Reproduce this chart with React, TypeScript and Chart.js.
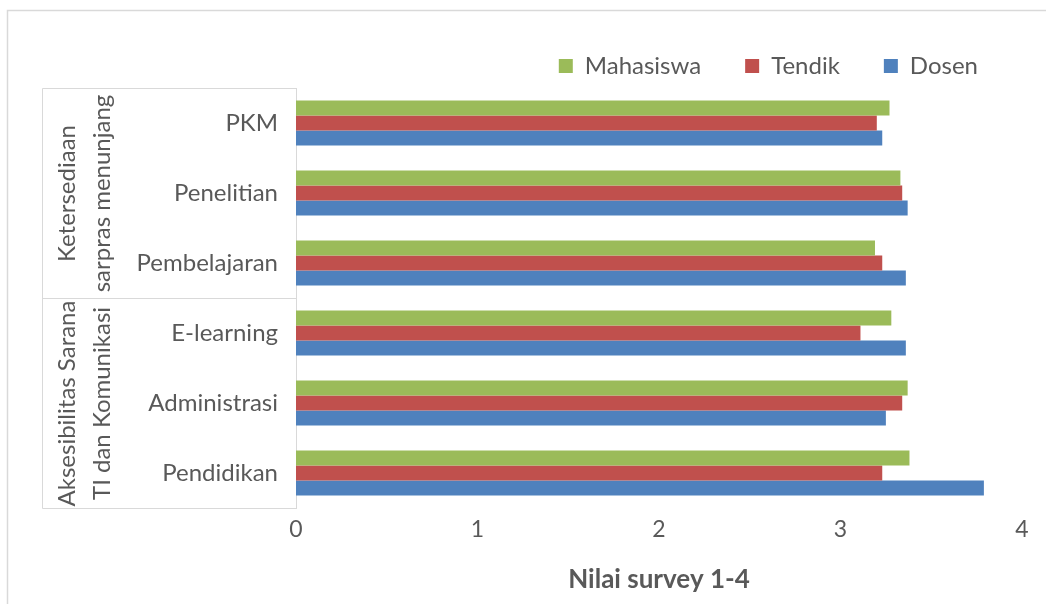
import React, { useEffect, useRef } from "react";
import { Chart, registerables } from "chart.js";

Chart.register(...registerables);

const categories = ["PKM", "Penelitian", "Pembelajaran", "E-learning", "Administrasi", "Pendidikan"];
const mahasiswa = [3.27, 3.33, 3.19, 3.28, 3.37, 3.38];
const tendik = [3.2, 3.34, 3.23, 3.11, 3.34, 3.23];
const dosen = [3.23, 3.37, 3.36, 3.36, 3.25, 3.79];
const groupLabels = [["Ketersediaan", "sarpras menunjang"], ["Aksesibilitas Sarana", "TI dan Komunikasi"]];
const groupStarts = [0, 3];
const groupEnds = [2, 5];
const xTicks = [0, 1, 2, 3, 4];
const axisTitle = "Nilai survey 1-4";

const TEXT = "#595959";
const LINE = "#d9d9d9";
const FONT = "Lato";

const framePlugin = {
  id: "frame",
  beforeDraw(chart: any) {
    const ctx = chart.ctx;
    ctx.save();
    ctx.fillStyle = "#ffffff";
    ctx.fillRect(0, 0, chart.width, chart.height);
    ctx.strokeStyle = LINE;
    ctx.lineWidth = 1.5;
    ctx.strokeRect(7.5, 10.5, 1200, 800);
    ctx.restore();
  },
  afterDraw(chart: any) {
    const ctx = chart.ctx;
    const y = chart.scales.y;
    const left = 42.5;
    const right = chart.chartArea.left;
    ctx.save();
    ctx.strokeStyle = LINE;
    ctx.lineWidth = 1;
    const half = (y.getPixelForValue(1) - y.getPixelForValue(0)) / 2;
    const top = Math.round(y.getPixelForValue(groupStarts[0]) - half) + 0.5;
    const bottom = Math.round(y.getPixelForValue(groupEnds[groupEnds.length - 1]) + half) + 0.5;
    ctx.beginPath();
    ctx.moveTo(left, top);
    ctx.lineTo(left, bottom);
    ctx.stroke();
    groupStarts.forEach((s, i) => {
      const gTop = Math.round(y.getPixelForValue(s) - half) + 0.5;
      const gBot = Math.round(y.getPixelForValue(groupEnds[i]) + half) + 0.5;
      ctx.beginPath();
      ctx.moveTo(left, gTop);
      ctx.lineTo(right, gTop);
      ctx.moveTo(left, gBot);
      ctx.lineTo(right, gBot);
      ctx.stroke();
      const cy = (gTop + gBot) / 2;
      ctx.fillStyle = TEXT;
      ctx.font = `24px ${FONT}`;
      ctx.textAlign = "center";
      ctx.textBaseline = "middle";
      groupLabels[i].forEach((ln, j) => {
        ctx.save();
        ctx.translate(67 + j * 35, cy);
        ctx.rotate(-Math.PI / 2);
        ctx.fillText(ln, 0, 0);
        ctx.restore();
      });
    });
    ctx.restore();
  },
};

export default function App() {
  const ref = useRef<HTMLCanvasElement>(null);
  useEffect(() => {
    if (!ref.current) return;
    const chart = new Chart(ref.current, {
      type: "bar",
      data: {
        labels: categories,
        datasets: [
          { label: "Mahasiswa", data: mahasiswa, backgroundColor: "#9bbb59" },
          { label: "Tendik", data: tendik, backgroundColor: "#c0504d" },
          { label: "Dosen", data: dosen, backgroundColor: "#4f81bd" },
        ],
      },
      options: {
        indexAxis: "y",
        responsive: false,
        animation: false,
        devicePixelRatio: 1,
        categoryPercentage: 0.645,
        barPercentage: 1,
        layout: { padding: { top: 10, right: 24, left: 0, bottom: 0 } },
        plugins: {
          tooltip: { enabled: false },
          legend: {
            position: "top",
            align: "end",
            labels: {
              boxWidth: 14,
              boxHeight: 14,
              padding: 44,
              color: TEXT,
              font: { family: FONT, size: 24 },
            },
          },
        },
        scales: {
          x: {
            min: 0,
            max: 4,
            afterBuildTicks: (s: any) => {
              s.ticks = xTicks.map((v) => ({ value: v }));
            },
            afterFit: (s: any) => {
              s.height = 96;
            },
            grid: { display: false },
            border: { display: false },
            ticks: { color: TEXT, font: { family: FONT, size: 23 }, padding: 0 },
            title: {
              display: true,
              text: axisTitle,
              color: TEXT,
              font: { family: FONT, size: 26, weight: "bold" },
              padding: { top: 0, bottom: 9 },
            },
          },
          y: {
            afterFit: (s: any) => {
              s.width = 296;
            },
            grid: { display: false, drawTicks: false },
            border: { display: true, color: LINE, width: 1 },
            ticks: { color: TEXT, font: { family: FONT, size: 24 }, padding: 18 },
          },
        },
      },
      plugins: [framePlugin],
    } as any);
    return () => chart.destroy();
  }, []);
  return (
    <div style={{ position: "absolute", left: 0, top: 0, width: 1046, height: 604 }}>
      <canvas ref={ref} width={1046} height={604} />
    </div>
  );
}
